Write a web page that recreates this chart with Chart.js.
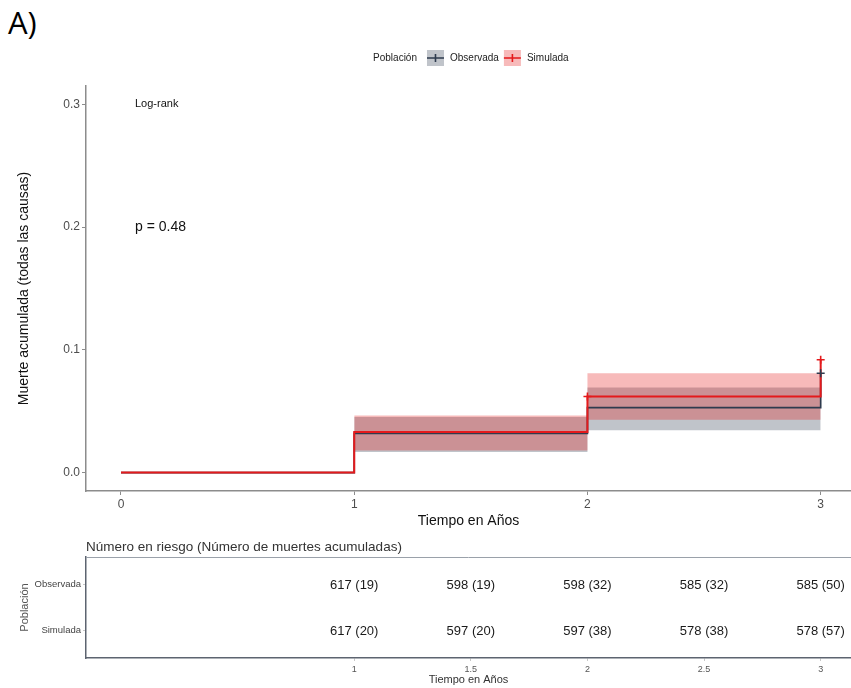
<!DOCTYPE html>
<html>
<head>
<meta charset="utf-8">
<script src="https://cdn.jsdelivr.net/npm/chart.js@4.4.1/dist/chart.umd.min.js"></script>
<style>
  html, body { margin: 0; padding: 0; background: #fff; width: 851px; height: 688px; overflow: hidden; }
  #panelLabel { position: absolute; left: 8px; top: 1px; font: 31px "Open Sans", "Noto Sans", sans-serif; color: #000; }
  canvas { position: absolute; left: 0; }
  #curve { top: 0; }
  #risk { top: 530px; }
</style>
</head>
<body>
<div id="panelLabel">A)</div>
<canvas id="curve" width="851" height="540"></canvas>
<canvas id="risk" width="851" height="158"></canvas>
<script>
// ---- cumulative mortality curves (step functions) ----
const groups = ['Observada', 'Simulada'];
const stepTimes = [0, 1, 2, 3];
const obsCum = [0, 0.032, 0.053, 0.081];
const simCum = [0, 0.033, 0.062, 0.092];

// confidence bands, one value per interval starting at bandTimes[i]
const bandTimes = [1, 2, 3];
const obsLower = [0.0168, 0.0344];
const obsUpper = [0.0452, 0.0694];
const simLower = [0.0181, 0.0431];
const simUpper = [0.0466, 0.0810];

// censoring marks
const obsCensorTimes = [3];
const simCensorTimes = [2, 3];

// axis ticks
const xTicks = [0, 1, 2, 3];
const yTicks = [0, 0.1, 0.2, 0.3];

// ---- risk table ----
const riskTimes = [1, 1.5, 2, 2.5, 3];
const obsAtRisk = [617, 598, 598, 585, 585];
const obsDeaths = [19, 19, 32, 32, 50];
const simAtRisk = [617, 597, 597, 578, 578];
const simDeaths = [20, 20, 38, 38, 57];

const logRankLabel = 'Log-rank';
const pValueLabel = 'p = 0.48';

const FONT = '"Liberation Sans", Arial, sans-serif';
Chart.defaults.font.family = FONT;
Chart.defaults.color = '#4D4D4D';

const obsColor = '#2E3B4E';
const simColor = '#E41A1C';
const obsFill = 'rgba(46,59,78,0.3)';
const simFill = 'rgba(228,26,28,0.3)';
const axisGrey = '#8c8c8c';

function stepPoints(times, vals) {
  return times.map((t, i) => ({ x: t, y: vals[i] }));
}
function bandPoints(times, vals) {
  const pts = vals.map((v, i) => ({ x: times[i], y: v }));
  pts.push({ x: times[times.length - 1], y: vals[vals.length - 1] });
  return pts;
}
function valueAt(times, vals, t) {
  let v = vals[0];
  times.forEach((s, i) => { if (s <= t) v = vals[i]; });
  return v;
}
function censorPoints(cTimes, times, vals) {
  return cTimes.map(t => ({ x: t, y: valueAt(times, vals, t) }));
}
// keep the plotting region flush with the fixed axis widths
function noEdgePadding(s) {
  s.paddingLeft = 0; s.paddingRight = 0; s.paddingTop = 0; s.paddingBottom = 0;
}

// legend key + annotations drawn on the curve chart
const curveDecor = {
  id: 'curveDecor',
  afterDraw(chart) {
    const { ctx, chartArea, scales } = chart;
    ctx.save();
    // annotations placed in data coordinates
    ctx.fillStyle = '#111';
    ctx.textAlign = 'left';
    ctx.textBaseline = 'middle';
    ctx.font = '11px ' + FONT;
    ctx.fillText(logRankLabel, scales.x.getPixelForValue(0.06), scales.y.getPixelForValue(0.3));
    ctx.font = '14px ' + FONT;
    ctx.fillText(pValueLabel, scales.x.getPixelForValue(0.06), scales.y.getPixelForValue(0.2));

    // legend
    const keyW = 17, keyH = 16, cy = 58;
    ctx.font = '10px ' + FONT;
    const titleW = ctx.measureText('Población').width;
    const labW = groups.map(g => ctx.measureText(g).width);
    const total = titleW + 10 + keyW + 6 + labW[0] + 5 + keyW + 6 + labW[1];
    let x = (chartArea.left + scales.x.getPixelForValue(3.15)) / 2 - total / 2;
    ctx.fillStyle = '#222';
    ctx.fillText('Población', x, cy);
    x += titleW + 10;
    const keys = [[obsFill, obsColor], [simFill, simColor]];
    keys.forEach(([fill, line], i) => {
      ctx.fillStyle = fill;
      ctx.fillRect(x, cy - keyH / 2, keyW, keyH);
      ctx.strokeStyle = line;
      ctx.lineWidth = 1.6;
      ctx.beginPath();
      ctx.moveTo(x, cy); ctx.lineTo(x + keyW, cy);
      ctx.moveTo(x + keyW / 2, cy - 4); ctx.lineTo(x + keyW / 2, cy + 4);
      ctx.moveTo(x + keyW / 2 - 4, cy); ctx.lineTo(x + keyW / 2 + 4, cy);
      ctx.stroke();
      x += keyW + 6;
      ctx.fillStyle = '#222';
      ctx.fillText(groups[i], x, cy);
      x += labW[i] + 5;
    });
    ctx.restore();
  }
};

new Chart(document.getElementById('curve'), {
  type: 'line',
  data: {
    datasets: [
      { label: 'Simulada', data: stepPoints(stepTimes, simCum), stepped: 'before',
        borderColor: simColor, borderWidth: 2, pointRadius: 0, fill: false, order: 0 },
      { label: 'Observada', data: stepPoints(stepTimes, obsCum), stepped: 'before',
        borderColor: obsColor, borderWidth: 1.7, pointRadius: 0, fill: false, order: 1 },
      { label: 'Simulada censura', data: censorPoints(simCensorTimes, stepTimes, simCum), showLine: false,
        pointStyle: 'cross', pointRadius: 4, borderColor: simColor, pointBorderWidth: 1.6, order: -1 },
      { label: 'Observada censura', data: censorPoints(obsCensorTimes, stepTimes, obsCum), showLine: false,
        pointStyle: 'cross', pointRadius: 4, borderColor: obsColor, pointBorderWidth: 1.6, order: -2 },
      { label: 'Simulada sup', data: bandPoints(bandTimes, simUpper), stepped: 'before',
        borderColor: 'rgba(0,0,0,0)', borderWidth: 0, pointRadius: 0,
        backgroundColor: simFill, fill: { target: 5 }, order: 2 },
      { label: 'Simulada inf', data: bandPoints(bandTimes, simLower), stepped: 'before',
        borderColor: 'rgba(0,0,0,0)', borderWidth: 0, pointRadius: 0, fill: false, order: 2 },
      { label: 'Observada sup', data: bandPoints(bandTimes, obsUpper), stepped: 'before',
        borderColor: 'rgba(0,0,0,0)', borderWidth: 0, pointRadius: 0,
        backgroundColor: obsFill, fill: { target: 7 }, order: 3 },
      { label: 'Observada inf', data: bandPoints(bandTimes, obsLower), stepped: 'before',
        borderColor: 'rgba(0,0,0,0)', borderWidth: 0, pointRadius: 0, fill: false, order: 3 }
    ]
  },
  options: {
    responsive: false,
    animation: false,
    devicePixelRatio: 1,
    layout: { autoPadding: false, padding: { top: 86, left: 0, right: 0, bottom: 0 } },
    plugins: { legend: { display: false }, tooltip: { enabled: false } },
    scales: {
      x: {
        type: 'linear', min: -0.15, max: 3.13,
        afterBuildTicks: s => { s.ticks = xTicks.map(v => ({ value: v })); },
        afterFit: s => { s.height = 49; noEdgePadding(s); },
        ticks: { color: '#4D4D4D', font: { size: 12 }, padding: 2, maxRotation: 0, autoSkip: false,
                 callback: v => String(v) },
        grid: { drawOnChartArea: false, drawTicks: true, tickLength: 4, color: axisGrey },
        border: { color: axisGrey, width: 1.5 },
        title: { display: true, text: 'Tiempo en Años', color: '#111', font: { size: 14 },
                 padding: { top: 0, bottom: 10 } }
      },
      y: {
        type: 'linear', min: -0.015, max: 0.315,
        afterBuildTicks: s => { s.ticks = yTicks.map(v => ({ value: v })); },
        afterFit: s => { s.width = 86; noEdgePadding(s); },
        ticks: { color: '#4D4D4D', font: { size: 12 }, padding: 2, callback: v => v.toFixed(1) },
        grid: { drawOnChartArea: false, drawTicks: true, tickLength: 4, color: axisGrey },
        border: { color: axisGrey, width: 1.5 },
        title: { display: true, text: 'Muerte acumulada (todas las causas)', color: '#111',
                 font: { size: 14 }, padding: { top: 16, bottom: 0 } }
      }
    }
  },
  plugins: [curveDecor]
});

// risk table: text at each (time, group row) point
const rowOf = { 'Observada': 2, 'Simulada': 1 };
const riskDecor = {
  id: 'riskDecor',
  afterDatasetsDraw(chart) {
    const { ctx, chartArea } = chart;
    ctx.save();
    // frame top line
    ctx.strokeStyle = '#9aa1aa';
    ctx.lineWidth = 1;
    ctx.beginPath();
    ctx.moveTo(chartArea.left, chartArea.top + 0.5);
    ctx.lineTo(chartArea.right, chartArea.top + 0.5);
    ctx.stroke();
    // table title
    ctx.fillStyle = '#333';
    ctx.font = '13.5px ' + FONT;
    ctx.textAlign = 'left';
    ctx.textBaseline = 'middle';
    ctx.fillText('Número en riesgo (Número de muertes acumuladas)', chartArea.left, 17);
    // cell values
    ctx.fillStyle = '#1a1a1a';
    ctx.font = '13px ' + FONT;
    ctx.textAlign = 'center';
    chart.data.datasets.forEach((ds, di) => {
      const meta = chart.getDatasetMeta(di);
      meta.data.forEach((pt, i) => {
        ctx.fillText(ds.cellText[i], pt.x, pt.y + 1);
      });
    });
    ctx.restore();
  }
};

function rowData(group) {
  return riskTimes.map(t => ({ x: t, y: rowOf[group] }));
}

new Chart(document.getElementById('risk'), {
  type: 'scatter',
  data: {
    datasets: [
      { label: 'Observada', data: rowData('Observada'), pointRadius: 0,
        cellText: obsAtRisk.map((n, i) => n + ' (' + obsDeaths[i] + ')') },
      { label: 'Simulada', data: rowData('Simulada'), pointRadius: 0,
        cellText: simAtRisk.map((n, i) => n + ' (' + simDeaths[i] + ')') }
    ]
  },
  options: {
    responsive: false,
    animation: false,
    devicePixelRatio: 1,
    layout: { autoPadding: false, padding: { top: 27, left: 0, right: 0, bottom: 0 } },
    plugins: { legend: { display: false }, tooltip: { enabled: false } },
    scales: {
      x: {
        type: 'linear', min: -0.15, max: 3.13,
        afterBuildTicks: s => { s.ticks = riskTimes.map(v => ({ value: v })); },
        afterFit: s => { s.height = 30; noEdgePadding(s); },
        ticks: { color: '#555', font: { size: 9 }, padding: 3, maxRotation: 0, autoSkip: false,
                 callback: v => String(v) },
        grid: { drawOnChartArea: false, drawTicks: true, tickLength: 3, color: '#c8c8c8' },
        border: { color: '#5d6470', width: 1.5 },
        title: { display: true, text: 'Tiempo en Años', color: '#333', font: { size: 11 },
                 padding: { top: 0, bottom: 1 } }
      },
      y: {
        type: 'linear', min: 0.4, max: 2.6,
        afterBuildTicks: s => { s.ticks = groups.map(g => ({ value: rowOf[g] })); },
        afterFit: s => { s.width = 86; noEdgePadding(s); },
        ticks: { color: '#444', font: { size: 9.5 }, padding: 2,
                 callback: v => groups.find(g => rowOf[g] === v) },
        grid: { drawOnChartArea: false, drawTicks: true, tickLength: 3, color: '#c8c8c8' },
        border: { color: '#5d6470', width: 1.5 },
        title: { display: true, text: 'Población', color: '#555', font: { size: 11 },
                 padding: { top: 18, bottom: 0 } }
      }
    }
  },
  plugins: [riskDecor]
});
</script>
</body>
</html>
